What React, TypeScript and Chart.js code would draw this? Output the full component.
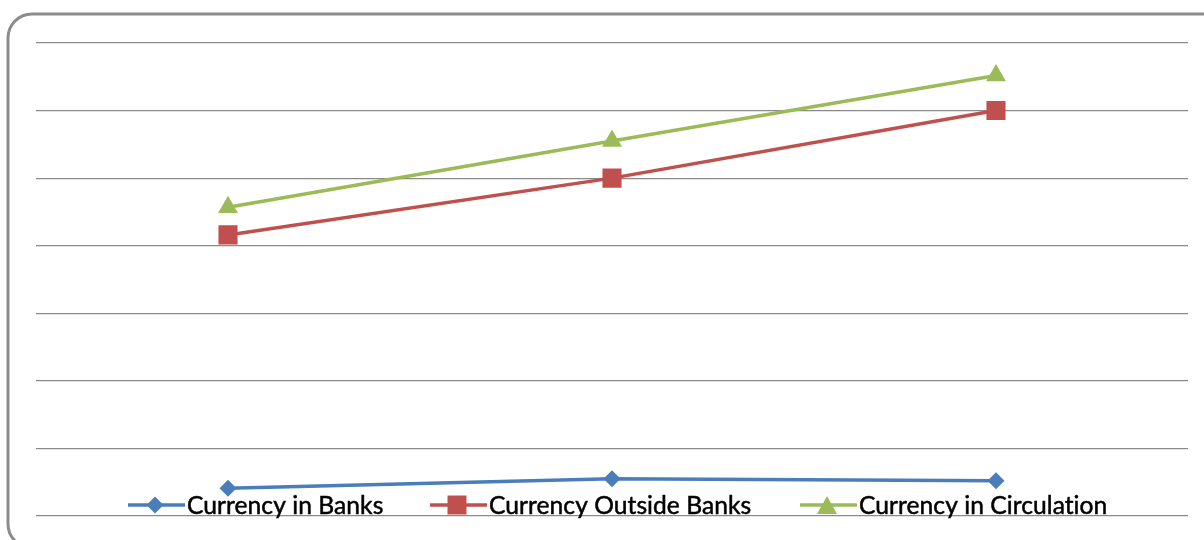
import React, { useEffect, useRef } from "react";
import { Chart, registerables } from "chart.js";

Chart.register(...registerables);

const categories = ["Year 1", "Year 2", "Year 3"];
const currencyInBanks = [0.41, 0.55, 0.52];
const currencyOutsideBanks = [4.16, 5.0, 6.0];
const currencyInCirculation = [4.57, 5.55, 6.52];
const seriesNames = ["Currency in Banks", "Currency Outside Banks", "Currency in Circulation"];
const yMin = 0;
const yMax = 7;
const yStep = 1;

const BLUE = "#4A7EBB";
const RED = "#C0504D";
const GREEN = "#9BBB59";
const FONT = "24.6px Lato";

function drawMarker(ctx: CanvasRenderingContext2D, style: string, x: number, y: number, color: string) {
  ctx.save();
  ctx.fillStyle = color;
  ctx.beginPath();
  if (style === "diamond") {
    const r = 8.5;
    ctx.moveTo(x, y - r);
    ctx.lineTo(x + r, y);
    ctx.lineTo(x, y + r);
    ctx.lineTo(x - r, y);
  } else if (style === "square") {
    const s = 9.5;
    ctx.rect(x - s, y - s, 2 * s, 2 * s);
  } else {
    const w = 10, h = 9;
    ctx.moveTo(x, y - h);
    ctx.lineTo(x + w, y + h);
    ctx.lineTo(x - w, y + h);
  }
  ctx.closePath();
  ctx.fill();
  ctx.restore();
}

const frameAndLegend = {
  id: "frameAndLegend",
  afterDraw(chart: any) {
    const ctx: CanvasRenderingContext2D = chart.ctx;
    // rounded frame
    ctx.save();
    ctx.strokeStyle = "#8C8C8C";
    ctx.lineWidth = 3;
    const x0 = 8, y0 = 14, x1 = 1260, y1 = 548, r = 24;
    ctx.beginPath();
    ctx.moveTo(x0 + r, y0);
    ctx.lineTo(x1 - r, y0);
    ctx.arcTo(x1, y0, x1, y0 + r, r);
    ctx.lineTo(x1, y1 - r);
    ctx.arcTo(x1, y1, x1 - r, y1, r);
    ctx.lineTo(x0 + r, y1);
    ctx.arcTo(x0, y1, x0, y1 - r, r);
    ctx.lineTo(x0, y0 + r);
    ctx.arcTo(x0, y0, x0 + r, y0, r);
    ctx.closePath();
    ctx.stroke();
    ctx.restore();

    // legend
    const items = [
      { name: seriesNames[0], color: BLUE, style: "diamond", x: 128 },
      { name: seriesNames[1], color: RED, style: "square", x: 430 },
      { name: seriesNames[2], color: GREEN, style: "triangle", x: 800 },
    ];
    const ly = 505;
    ctx.save();
    ctx.font = FONT;
    (ctx as any).letterSpacing = "0.05px";
    ctx.textBaseline = "middle";
    for (const it of items) {
      ctx.strokeStyle = it.color;
      ctx.lineWidth = 3.5;
      ctx.beginPath();
      ctx.moveTo(it.x, ly);
      ctx.lineTo(it.x + 57, ly);
      ctx.stroke();
      drawMarker(ctx, it.style, it.x + 27, ly, it.color);
      ctx.fillStyle = "#000";
      ctx.strokeStyle = "#000";
      ctx.lineWidth = 0.5;
      ctx.fillText(it.name, it.x + 59, ly + 1);
      ctx.strokeText(it.name, it.x + 59, ly + 1);
    }
    ctx.restore();
  },
};

export default function App() {
  const ref = useRef<HTMLCanvasElement>(null);
  useEffect(() => {
    if (!ref.current) return;
    const chart = new Chart(ref.current, {
      type: "line",
      data: {
        labels: categories,
        datasets: [
          {
            label: seriesNames[0],
            data: currencyInBanks,
            borderColor: BLUE,
            backgroundColor: BLUE,
            borderWidth: 3.5,
            pointStyle: "rectRot",
            pointRadius: 8.5,
            pointBorderWidth: 0,
            tension: 0,
          },
          {
            label: seriesNames[1],
            data: currencyOutsideBanks,
            borderColor: RED,
            backgroundColor: RED,
            borderWidth: 3.5,
            pointStyle: "rect",
            pointRadius: 13.5,
            pointBorderWidth: 0,
            tension: 0,
          },
          {
            label: seriesNames[2],
            data: currencyInCirculation,
            borderColor: GREEN,
            backgroundColor: GREEN,
            borderWidth: 3.5,
            pointStyle: "triangle",
            pointRadius: 11.5,
            pointBorderWidth: 0,
            tension: 0,
          },
        ],
      },
      options: {
        responsive: false,
        animation: false,
        devicePixelRatio: 1,
        layout: { padding: { left: 36, top: 43, right: 16, bottom: 24 } },
        plugins: { legend: { display: false }, tooltip: { enabled: false } },
        scales: {
          x: {
            display: false,
            offset: true,
          },
          y: {
            min: yMin,
            max: yMax,
            ticks: { display: false, stepSize: yStep },
            border: { display: false },
            grid: { color: "#8A8A8A", lineWidth: 1.2, drawTicks: false },
          },
        },
      },
      plugins: [frameAndLegend],
    });
    return () => chart.destroy();
  }, []);
  return (
    <div style={{ position: "fixed", left: 0, top: 0, width: 1204, height: 540, background: "#fff" }}>
      <canvas ref={ref} width={1204} height={540} />
    </div>
  );
}
